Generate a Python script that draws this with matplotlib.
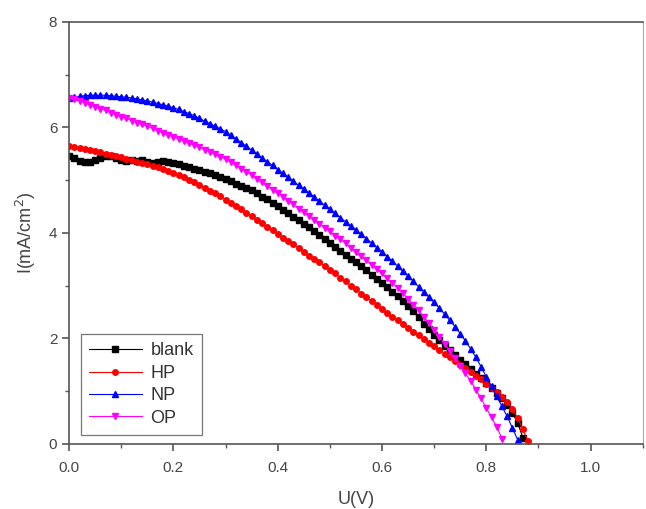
import numpy as np
import matplotlib
matplotlib.use("Agg")
import matplotlib.pyplot as plt
from matplotlib.ticker import MultipleLocator

matplotlib.rcParams.update({'font.family': ['Liberation Sans', 'DejaVu Sans'],
                            'font.size': 11})

# J-V curves, voltage step 0.01 V
blank_u = [round(0.01 * i, 2) for i in range(88)]
blank_i = [5.45, 5.42, 5.37, 5.34, 5.35, 5.38, 5.42, 5.45, 5.46, 5.42,
           5.38, 5.37, 5.38, 5.37, 5.38, 5.35, 5.33, 5.35, 5.36, 5.34,
           5.33, 5.31, 5.27, 5.24, 5.22, 5.19, 5.16, 5.14, 5.10, 5.05,
           5.03, 4.98, 4.93, 4.89, 4.86, 4.82, 4.75, 4.68, 4.64, 4.56,
           4.50, 4.44, 4.38, 4.31, 4.24, 4.17, 4.11, 4.03, 3.96, 3.88,
           3.80, 3.73, 3.65, 3.58, 3.51, 3.44, 3.37, 3.29, 3.21, 3.13,
           3.05, 2.97, 2.88, 2.80, 2.71, 2.61, 2.51, 2.41, 2.28, 2.17,
           2.06, 1.96, 1.86, 1.77, 1.68, 1.59, 1.51, 1.42, 1.33, 1.24,
           1.16, 1.06, 0.97, 0.86, 0.74, 0.58, 0.40, 0.12]

hp_u = [round(0.01 * i, 2) for i in range(89)]
hp_i = [5.65, 5.63, 5.61, 5.59, 5.57, 5.55, 5.53, 5.50, 5.48, 5.45,
        5.43, 5.40, 5.38, 5.35, 5.33, 5.30, 5.27, 5.24, 5.21, 5.18,
        5.14, 5.10, 5.05, 5.01, 4.96, 4.91, 4.86, 4.80, 4.75, 4.69,
        4.63, 4.57, 4.51, 4.45, 4.38, 4.32, 4.25, 4.18, 4.11, 4.05,
        3.98, 3.91, 3.85, 3.78, 3.71, 3.64, 3.57, 3.51, 3.44, 3.37,
        3.30, 3.23, 3.15, 3.08, 3.00, 2.93, 2.85, 2.78, 2.70, 2.63,
        2.55, 2.48, 2.41, 2.34, 2.27, 2.20, 2.13, 2.06, 1.99, 1.92,
        1.85, 1.78, 1.71, 1.64, 1.57, 1.50, 1.43, 1.36, 1.29, 1.22,
        1.14, 1.06, 0.98, 0.89, 0.79, 0.66, 0.49, 0.28, 0.05]

np_u = [round(0.01 * i, 2) for i in range(87)]
np_i = [6.55, 6.57, 6.59, 6.60, 6.61, 6.61, 6.61, 6.61, 6.60, 6.59,
        6.58, 6.57, 6.56, 6.54, 6.52, 6.50, 6.48, 6.45, 6.43, 6.40,
        6.37, 6.34, 6.30, 6.26, 6.22, 6.17, 6.12, 6.07, 6.02, 5.97,
        5.92, 5.85, 5.78, 5.71, 5.64, 5.57, 5.50, 5.42, 5.35, 5.28,
        5.20, 5.13, 5.05, 4.98, 4.90, 4.83, 4.75, 4.68, 4.60, 4.53,
        4.45, 4.37, 4.29, 4.21, 4.13, 4.05, 3.97, 3.89, 3.81, 3.72,
        3.64, 3.55, 3.46, 3.37, 3.27, 3.18, 3.08, 2.98, 2.88, 2.78,
        2.68, 2.57, 2.46, 2.34, 2.22, 2.09, 1.95, 1.80, 1.64, 1.46,
        1.27, 1.09, 0.90, 0.71, 0.52, 0.30, 0.08]

op_u = [round(0.01 * i, 2) for i in range(84)]
op_i = [6.55, 6.53, 6.50, 6.47, 6.43, 6.39, 6.35, 6.32, 6.28, 6.24,
        6.20, 6.17, 6.13, 6.09, 6.06, 6.02, 5.98, 5.94, 5.90, 5.86,
        5.82, 5.78, 5.74, 5.70, 5.66, 5.62, 5.58, 5.53, 5.49, 5.44,
        5.40, 5.34, 5.28, 5.22, 5.16, 5.09, 5.02, 4.96, 4.89, 4.82,
        4.75, 4.68, 4.61, 4.54, 4.46, 4.39, 4.32, 4.25, 4.17, 4.10,
        4.03, 3.95, 3.88, 3.80, 3.72, 3.64, 3.56, 3.48, 3.40, 3.31,
        3.23, 3.14, 3.05, 2.95, 2.86, 2.75, 2.64, 2.53, 2.41, 2.29,
        2.16, 2.03, 1.90, 1.76, 1.62, 1.48, 1.34, 1.19, 1.03, 0.86,
        0.68, 0.50, 0.32, 0.10]

fig = plt.figure(figsize=(6.46, 5.09), dpi=100)
ax = fig.add_axes([0.107, 0.128, 0.888, 0.829])

ms = 4
ax.plot(blank_u, blank_i, color='black', marker='s', markersize=ms, lw=0.8, label='blank')
ax.plot(hp_u, hp_i, color='red', marker='o', markersize=ms, lw=0.8, label='HP')
ax.plot(np_u, np_i, color='blue', marker='^', markersize=ms + 0.5, lw=0.8, label='NP')
ax.plot(op_u, op_i, color='magenta', marker='v', markersize=ms + 0.5, lw=0.8, label='OP')

ax.set_xlim(0, 1.1)
ax.set_ylim(0, 8)
ax.xaxis.set_major_locator(MultipleLocator(0.2))
ax.xaxis.set_minor_locator(MultipleLocator(0.1))
ax.yaxis.set_major_locator(MultipleLocator(2))
ax.yaxis.set_minor_locator(MultipleLocator(1))
ax.xaxis.set_major_formatter(matplotlib.ticker.FormatStrFormatter('%.1f'))

spine_color = '#555555'
for s in ax.spines.values():
    s.set_color(spine_color)
    s.set_linewidth(1.2)
ax.spines['right'].set_color('#aaaaaa')
ax.spines['right'].set_linewidth(0.8)
ax.tick_params(which='both', direction='out', color=spine_color, labelcolor='#444444',
               top=False, right=False)
ax.tick_params(which='major', length=5, width=1.2)
ax.tick_params(which='minor', length=3, width=1.0)
ax.tick_params(axis='x', which='major', pad=7)

ax.set_xlabel('U(V)', fontsize=13, color='#444444', labelpad=12)
ax.set_ylabel('I(mA/cm$^2$)', fontsize=13, color='#444444', labelpad=8)

leg = ax.legend(loc='lower left', bbox_to_anchor=(0.005, 0.0), fontsize=13,
                fancybox=False, framealpha=1, edgecolor='#777777',
                handlelength=2.9, handletextpad=0.5, borderpad=0.45,
                labelspacing=0.3, markerscale=1.0)
leg.get_frame().set_linewidth(0.9)
for t in leg.get_texts():
    t.set_color('#333333')

fig.savefig('out.png', dpi=100)
